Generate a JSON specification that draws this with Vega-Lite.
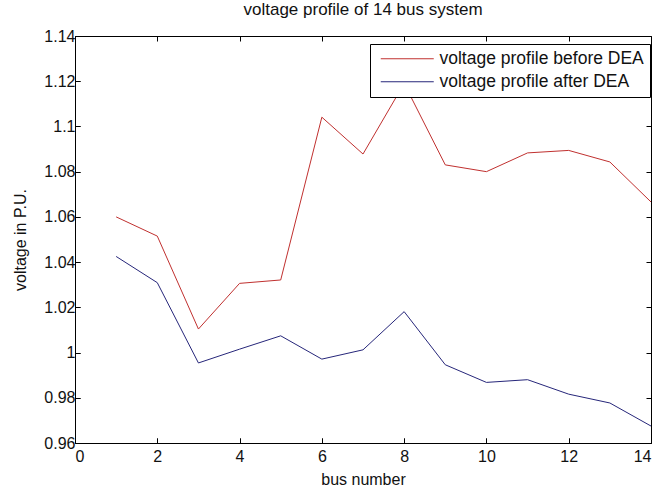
{
  "$schema": "https://vega.github.io/schema/vega-lite/v6.json",
  "width": 576,
  "height": 407,
  "autosize": {"type": "none"},
  "padding": {"left": 75, "top": 36, "right": 8, "bottom": 44},
  "background": "white",
  "config": {
    "font": "Liberation Sans",
    "view": {"stroke": "black", "strokeWidth": 1},
    "axis": {"domain": false, "ticks": true, "tickColor": "black", "tickSize": -5, "tickWidth": 1, "labelColor": "#111111", "titleColor": "#111111", "labelFont": "Liberation Sans", "titleFont": "Liberation Sans", "titleFontWeight": "normal", "labelFontSize": 16, "titleFontSize": 16}
  },
  "title": {"text": "voltage profile of 14 bus system", "fontSize": 17, "fontWeight": "normal", "font": "Liberation Sans", "color": "#111111", "offset": 9},
  "data": {"values": [
    {"bus": 1, "v": 1.0600, "s": "voltage profile before DEA"},
    {"bus": 2, "v": 1.0515, "s": "voltage profile before DEA"},
    {"bus": 3, "v": 1.0104, "s": "voltage profile before DEA"},
    {"bus": 4, "v": 1.0306, "s": "voltage profile before DEA"},
    {"bus": 5, "v": 1.0321, "s": "voltage profile before DEA"},
    {"bus": 6, "v": 1.1041, "s": "voltage profile before DEA"},
    {"bus": 7, "v": 1.0878, "s": "voltage profile before DEA"},
    {"bus": 8, "v": 1.1190, "s": "voltage profile before DEA"},
    {"bus": 9, "v": 1.0830, "s": "voltage profile before DEA"},
    {"bus": 10, "v": 1.0800, "s": "voltage profile before DEA"},
    {"bus": 11, "v": 1.0883, "s": "voltage profile before DEA"},
    {"bus": 12, "v": 1.0894, "s": "voltage profile before DEA"},
    {"bus": 13, "v": 1.0843, "s": "voltage profile before DEA"},
    {"bus": 14, "v": 1.0666, "s": "voltage profile before DEA"},
    {"bus": 1, "v": 1.0425, "s": "voltage profile after DEA"},
    {"bus": 2, "v": 1.0309, "s": "voltage profile after DEA"},
    {"bus": 3, "v": 0.9954, "s": "voltage profile after DEA"},
    {"bus": 4, "v": 1.0015, "s": "voltage profile after DEA"},
    {"bus": 5, "v": 1.0074, "s": "voltage profile after DEA"},
    {"bus": 6, "v": 0.9971, "s": "voltage profile after DEA"},
    {"bus": 7, "v": 1.0012, "s": "voltage profile after DEA"},
    {"bus": 8, "v": 1.0181, "s": "voltage profile after DEA"},
    {"bus": 9, "v": 0.9946, "s": "voltage profile after DEA"},
    {"bus": 10, "v": 0.9868, "s": "voltage profile after DEA"},
    {"bus": 11, "v": 0.9880, "s": "voltage profile after DEA"},
    {"bus": 12, "v": 0.9816, "s": "voltage profile after DEA"},
    {"bus": 13, "v": 0.9777, "s": "voltage profile after DEA"},
    {"bus": 14, "v": 0.9675, "s": "voltage profile after DEA"}
  ]},
  "mark": {"type": "line", "strokeWidth": 1, "clip": true},
  "encoding": {
    "x": {"field": "bus", "type": "quantitative", "scale": {"domain": [0, 14], "nice": false, "zero": false},
      "axis": {"orient": "bottom", "title": "bus number", "values": [0, 2, 4, 6, 8, 10, 12, 14], "grid": true, "gridColor": "black", "gridOpacity": 1, "gridWidth": 1, "gridDash": [5, 397, 5], "labelPadding": 10, "titlePadding": 7, "format": "d"}},
    "y": {"field": "v", "type": "quantitative", "scale": {"domain": [0.96, 1.14], "nice": false, "zero": false},
      "axis": {"orient": "left", "title": "voltage in P.U.", "values": [0.96, 0.98, 1.0, 1.02, 1.04, 1.06, 1.08, 1.1, 1.12, 1.14], "grid": true, "gridColor": "black", "gridOpacity": 1, "gridWidth": 1, "gridDash": [5, 566, 5], "format": "~g", "labelPadding": 5, "titlePadding": 15}},
    "color": {"field": "s", "type": "nominal", "sort": ["voltage profile before DEA", "voltage profile after DEA"],
      "scale": {"domain": ["voltage profile before DEA", "voltage profile after DEA"], "range": ["#c0302f", "#26267a"]},
      "legend": {"title": null, "orient": "none", "legendX": 295, "legendY": 8, "symbolType": "M-3.3125,0H3.3125", "symbolSize": 256, "symbolOffset": 22.5, "symbolStrokeWidth": 1, "labelFontSize": 17.5, "labelFont": "Liberation Sans", "labelColor": "#111111", "labelLimit": 400, "fillColor": "white", "strokeColor": "black", "padding": 6, "rowPadding": 4, "labelOffset": 23.5}}
  }
}
